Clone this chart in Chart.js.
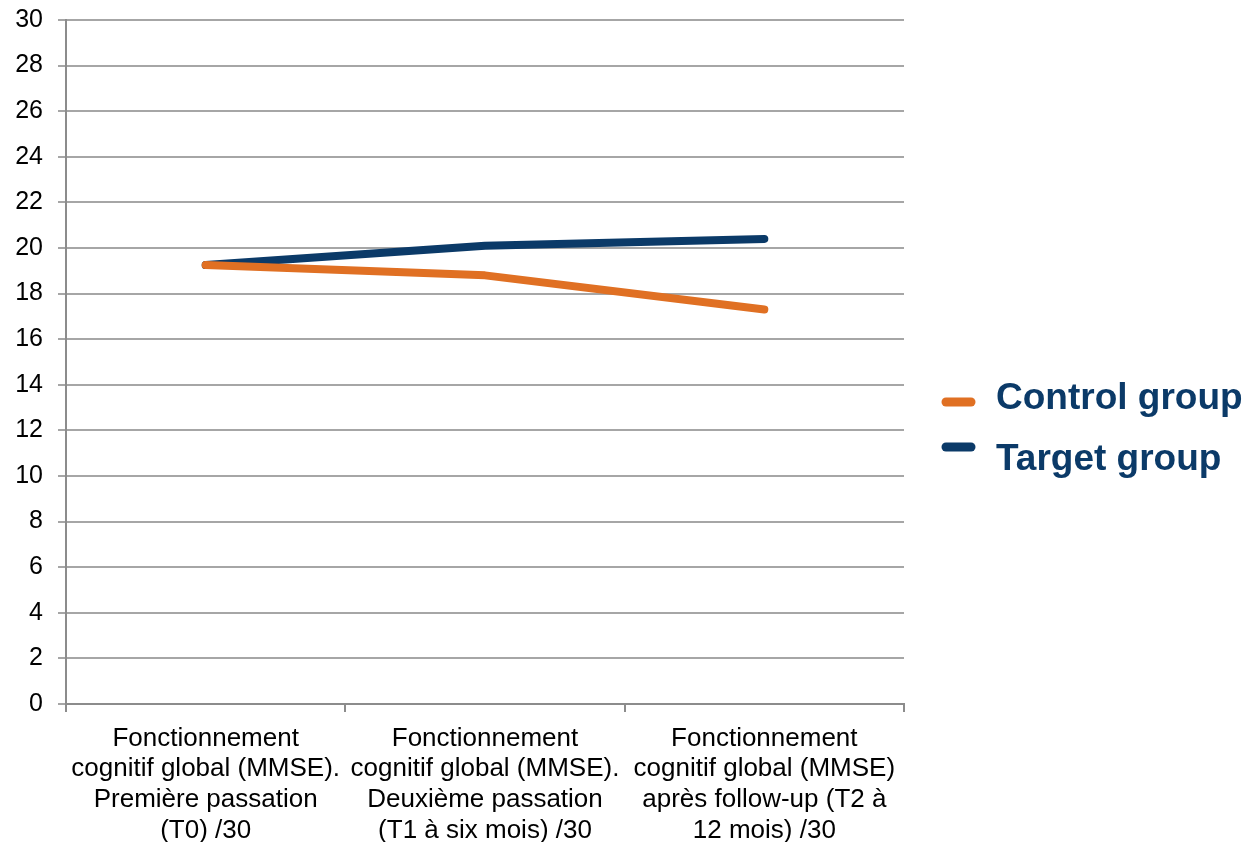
<!DOCTYPE html>
<html>
<head>
<meta charset="utf-8">
<script src="https://cdn.jsdelivr.net/npm/chart.js@4"></script>
<style>
  html, body { margin: 0; padding: 0; background: #fff; }
  #wrap { width: 1254px; height: 842px; position: relative; }
</style>
</head>
<body>
<div id="wrap"><canvas id="c" width="1254" height="842"></canvas></div>
<script>
// MMSE scores (/30) at the three assessment points
const categories = [
  ["Fonctionnement", "cognitif global (MMSE).", "Première passation", "(T0) /30"],
  ["Fonctionnement", "cognitif global (MMSE).", "Deuxième passation", "(T1 à six mois) /30"],
  ["Fonctionnement", "cognitif global (MMSE)", "après follow-up (T2 à", "12 mois) /30"]
];
const seriesNames = ["Control group", "Target group"];
const controlValues = [19.25, 18.8, 17.3];
const targetValues = [19.25, 20.1, 20.4];
const yTicks = [0, 2, 4, 6, 8, 10, 12, 14, 16, 18, 20, 22, 24, 26, 28, 30];

const ORANGE = "#E07023";
const NAVY = "#0B3A68";
const FONT = "'Liberation Sans', Arial, sans-serif";

// Legend drawn on the right, one short thick stroke per series
const sideLegend = {
  id: "sideLegend",
  afterDraw(chart) {
    const ctx = chart.ctx;
    const rows = [
      { y: 402, ty: 399 },
      { y: 447, ty: 460 }
    ];
    chart.data.datasets.forEach((ds, i) => {
      const r = rows[i];
      ctx.save();
      ctx.strokeStyle = ds.borderColor;
      ctx.lineWidth = 9;
      ctx.lineCap = "round";
      ctx.beginPath();
      ctx.moveTo(946, r.y);
      ctx.lineTo(971, r.y);
      ctx.stroke();
      ctx.fillStyle = NAVY;
      ctx.font = "bold 37px " + FONT;
      ctx.textBaseline = "middle";
      ctx.textAlign = "left";
      ctx.fillText(ds.label, 996, r.ty);
      ctx.restore();
    });
  }
};

new Chart(document.getElementById("c"), {
  type: "line",
  data: {
    labels: categories,
    datasets: [
      {
        label: seriesNames[0],
        data: controlValues,
        borderColor: ORANGE,
        backgroundColor: ORANGE,
        borderWidth: 8,
        borderCapStyle: "round",
        borderJoinStyle: "round",
        pointRadius: 0,
        tension: 0
      },
      {
        label: seriesNames[1],
        data: targetValues,
        borderColor: NAVY,
        backgroundColor: NAVY,
        borderWidth: 8,
        borderCapStyle: "round",
        borderJoinStyle: "round",
        pointRadius: 0,
        tension: 0
      }
    ]
  },
  options: {
    responsive: false,
    animation: false,
    layout: { padding: { top: 20, right: 350, bottom: 0, left: 0 } },
    plugins: {
      legend: { display: false },
      tooltip: { enabled: false }
    },
    scales: {
      x: {
        offset: true,
        grid: {
          offset: true,
          drawOnChartArea: false,
          drawTicks: true,
          tickLength: 8,
          color: "#8c8c8c",
          lineWidth: 2
        },
        border: { color: "#8c8c8c", width: 2 },
        ticks: {
          color: "#000",
          font: { family: FONT, size: 26, lineHeight: 1.18 },
          maxRotation: 0,
          minRotation: 0,
          autoSkip: false,
          padding: 11
        },
        afterFit(s) { s.height = 138; s.paddingLeft = 0; s.paddingRight = 0; }
      },
      y: {
        min: 0,
        max: 30,
        afterBuildTicks(s) { s.ticks = yTicks.map(v => ({ value: v })); },
        grid: {
          color: "#a6a6a6",
          lineWidth: 2,
          tickLength: 8,
          drawTicks: true
        },
        border: { color: "#8c8c8c", width: 2 },
        ticks: {
          color: "#000",
          font: { family: FONT, size: 25 },
          padding: 15
        },
        afterFit(s) { s.width = 66; s.paddingTop = 0; s.paddingBottom = 0; }
      }
    }
  },
  plugins: [sideLegend]
});
</script>
</body>
</html>
